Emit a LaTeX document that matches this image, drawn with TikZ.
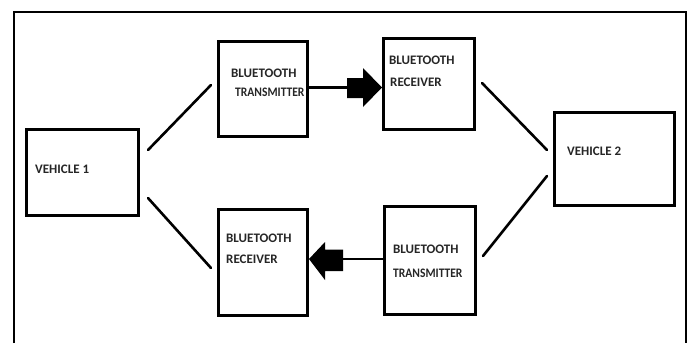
\documentclass[tikz,border=0pt]{standalone}
\usepackage{fontspec}
\setmainfont{Carlito}
\newfontfamily\narrowfont[FakeStretch=0.89]{Carlito}
\begin{document}
\begin{tikzpicture}[x=1pt,y=-1pt,
  blk/.style={draw=black,line width=3pt,fill=white,inner sep=0pt},
  lbl/.style={font=\bfseries\fontsize{13}{15}\selectfont,inner sep=0pt,anchor=west,text=black!85},
  nlbl/.style={font=\narrowfont\bfseries\fontsize{13}{15}\selectfont,inner sep=0pt,anchor=west,text=black!85},
  conn/.style={line width=2.6pt,line cap=round},
  arrowshape/.style={fill=black,draw=none}]
\useasboundingbox (0,0) rectangle (690,343);
\fill[white] (0,0) rectangle (690,343);
% outer frame (open at bottom)
\coordinate (fa) at (14,343);
\coordinate (fb) at (14,12);
\coordinate (fc) at (686,12);
\coordinate (fd) at (686,343);
\draw[line width=2pt] (fa) -- (fb) -- (fc) -- (fd);
% boxes
\node[blk,minimum width=112pt,minimum height=86pt] (V1) at (82.5,172.5) {};
\node[blk,minimum width=120pt,minimum height=93pt] (V2) at (614.5,159) {};
\node[blk,minimum width=89pt,minimum height=95pt] (T1) at (263,89) {};
\node[blk,minimum width=91pt,minimum height=91pt] (R1) at (429,84) {};
\node[blk,minimum width=89pt,minimum height=106pt] (R2) at (263,262.5) {};
\node[blk,minimum width=91pt,minimum height=108pt] (T2) at (430,260.5) {};
% labels
\node[lbl] (v1t) at (35,169) {VEHICLE 1};
\node[lbl] (v2t) at (567,151) {VEHICLE 2};
\node[lbl] (t1a) at (231,73) {BLUETOOTH};
\node[nlbl] (t1b) at (235,92) {TRANSMITTER};
\node[lbl] (r1a) at (389,60) {BLUETOOTH};
\node[lbl] (r1b) at (390,82) {RECEIVER};
\node[lbl] (r2a) at (226,238) {BLUETOOTH};
\node[lbl] (r2b) at (226,259) {RECEIVER};
\node[lbl] (t2a) at (393,249) {BLUETOOTH};
\node[nlbl] (t2b) at (393,273) {TRANSMITTER};
% connector end points
\coordinate (c1a) at (148,150);
\coordinate (c1b) at (211,85);
\coordinate (c2a) at (148,198);
\coordinate (c2b) at (211,268);
\coordinate (c3a) at (482,83);
\coordinate (c3b) at (547,150);
\coordinate (c4a) at (547,176);
\coordinate (c4b) at (483,256);
\draw[conn] (c1a) -- (c1b);
\draw[conn] (c2a) -- (c2b);
\draw[conn] (c3a) -- (c3b);
\draw[conn] (c4a) -- (c4b);
% top arrow: T1 -> R1
\coordinate (ta) at (347,87.5);
\draw[line width=2.5pt] (T1.east |- ta) -- (ta);
\fill[arrowshape] (347,78) -- (363,78) -- (363,68) -- (R1.west |- ta) -- (363,107) -- (363,98) -- (347,98) -- cycle;
% bottom arrow: T2 -> R2
\coordinate (ba) at (343,259);
\draw[line width=2.5pt] (T2.west |- ba) -- (ba);
\fill[arrowshape] (343,249.5) -- (325,249.5) -- (325,242) -- (R2.east |- ba) -- (325,280) -- (325,271) -- (343,271) -- cycle;
\end{tikzpicture}
\end{document}
